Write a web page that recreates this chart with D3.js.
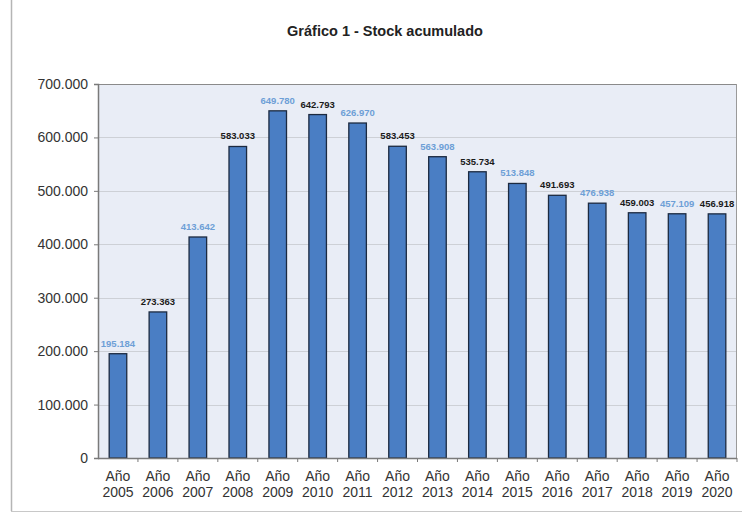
<!DOCTYPE html>
<html>
<head>
<meta charset="utf-8">
<script src="https://cdn.jsdelivr.net/npm/d3@7/dist/d3.min.js"></script>
<style>
  html, body { margin: 0; padding: 0; background: #ffffff; }
  svg { display: block; font-family: Arial, "Liberation Sans", sans-serif; }
</style>
</head>
<body>
<svg id="chart" width="742" height="513"></svg>
<script>
// Stock acumulado por año
const years = ["2005", "2006", "2007", "2008", "2009", "2010", "2011", "2012",
               "2013", "2014", "2015", "2016", "2017", "2018", "2019", "2020"];
const stock = [195184, 273363, 413642, 583033, 649780, 642793, 626970, 583453,
               563908, 535734, 513848, 491693, 476938, 459003, 457109, 456918];
const yTicks = [0, 100000, 200000, 300000, 400000, 500000, 600000, 700000];
const title = "Gráfico 1 - Stock acumulado";

const svg = d3.select("#chart");
const W = 742, H = 513;
const m = { left: 98, right: 5, top: 84, bottom: 55 };
const pw = W - m.left - m.right, ph = H - m.top - m.bottom;

// outer frame (left and bottom edges visible)
svg.append("line").attr("x1", 11.5).attr("x2", 11.5).attr("y1", 0).attr("y2", 511)
  .attr("stroke", "#b5b5b5").attr("stroke-width", 1.5);
svg.append("line").attr("x1", 11).attr("x2", W).attr("y1", 511.5).attr("y2", 511.5)
  .attr("stroke", "#c8c8c8").attr("stroke-width", 1);

svg.append("text")
  .attr("x", 385).attr("y", 36)
  .attr("text-anchor", "middle")
  .attr("font-size", 14.5).attr("font-weight", "bold").attr("fill", "#222")
  .text(title);

const g = svg.append("g").attr("transform", `translate(${m.left},${m.top})`);

const x = d3.scaleBand().domain(years).range([0, pw]).paddingInner(0.56).paddingOuter(0.28);
const xb = d3.scaleBand().domain(years).range([0, pw]);
const y = d3.scaleLinear().domain([0, 700000]).range([ph, 0]);

// plot area
g.append("rect").attr("width", pw).attr("height", ph).attr("fill", "#e9edf6");

// gridlines
g.selectAll(".grid").data(yTicks.slice(1)).enter().append("line")
  .attr("x1", 0).attr("x2", pw)
  .attr("y1", d => Math.round(y(d)) + 0.5).attr("y2", d => Math.round(y(d)) + 0.5)
  .attr("stroke", d => d === 700000 ? "#8a8a8a" : "#cdd0d6").attr("stroke-width", 1);
g.append("line").attr("x1", pw - 0.5).attr("x2", pw - 0.5).attr("y1", 0).attr("y2", ph)
  .attr("stroke", "#9a9a9a");

// bars
g.selectAll(".bar").data(years).enter().append("rect")
  .attr("x", d => x(d))
  .attr("y", (d, i) => y(stock[i]))
  .attr("width", x.bandwidth())
  .attr("height", (d, i) => ph - y(stock[i]))
  .attr("fill", "#4a7ec4")
  .attr("stroke", "#1c2a40").attr("stroke-width", 1.3);

// value labels
const fmt = v => d3.format(",")(v).replace(/,/g, ".");
g.selectAll(".val").data(years).enter().append("text")
  .attr("x", d => x(d) + x.bandwidth() / 2)
  .attr("y", (d, i) => y(stock[i]) - 7)
  .attr("text-anchor", "middle")
  .attr("font-size", 9.5).attr("font-weight", "bold")
  .attr("fill", (d, i) => i % 2 === 0 ? "#6d9fd6" : "#1a1a1a")
  .text((d, i) => fmt(stock[i]));

// y axis
const yAxis = d3.axisLeft(y).tickValues(yTicks).tickSize(4).tickPadding(6)
  .tickFormat(d => d === 0 ? "0" : fmt(d));
const ya = g.append("g").call(yAxis);
ya.select(".domain").attr("stroke", "#7a7a7a").attr("stroke-width", 1.5);
ya.selectAll(".tick line").attr("stroke", "#7a7a7a");
ya.selectAll("text").attr("font-size", 14).attr("fill", "#333")
  .attr("font-family", "Arial, 'Liberation Sans', sans-serif");

// x axis baseline and ticks at category boundaries
g.append("line").attr("x1", 0).attr("x2", pw).attr("y1", ph + 0.5).attr("y2", ph + 0.5)
  .attr("stroke", "#7a7a7a").attr("stroke-width", 1.5);
g.selectAll(".xt").data(years.slice(1).concat(["end"])).enter().append("line")
  .attr("x1", (d, i) => i < years.length - 1 ? xb(d) : pw)
  .attr("x2", (d, i) => i < years.length - 1 ? xb(d) : pw)
  .attr("y1", ph).attr("y2", ph + 4)
  .attr("stroke", "#7a7a7a");

// category labels
const cl = g.selectAll(".cat").data(years).enter().append("text")
  .attr("text-anchor", "middle")
  .attr("font-size", 14).attr("fill", "#333");
cl.append("tspan").attr("x", d => xb(d) + xb.bandwidth() / 2).attr("y", ph + 23).text("Año");
cl.append("tspan").attr("x", d => xb(d) + xb.bandwidth() / 2).attr("y", ph + 39).text(d => d);
</script>
</body>
</html>
